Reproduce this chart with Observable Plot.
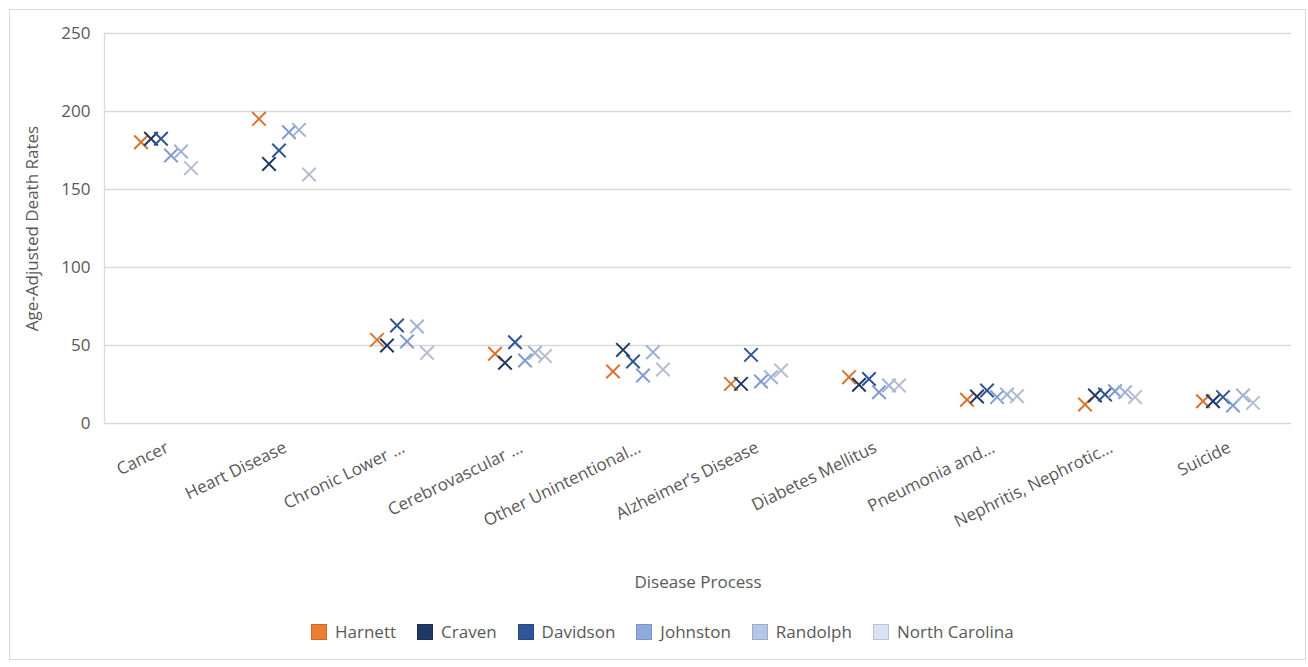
<!DOCTYPE html>
<html><head><meta charset="utf-8">
<script src="https://cdn.jsdelivr.net/npm/d3@7"></script>
<script src="https://cdn.jsdelivr.net/npm/@observablehq/plot@0.6"></script>
<style>
body{margin:0;background:#fff;font-family:"Open Sans",sans-serif;}
#wrap{position:relative;width:1308px;height:667px;overflow:hidden;}
#frame{position:absolute;left:9px;top:9px;width:1297px;height:651px;border:1px solid #d9d9d9;box-sizing:border-box;}
#chart{position:absolute;left:0;top:0;}
#legend{position:absolute;left:311px;top:620px;display:flex;align-items:center;font-size:17px;color:#595959;white-space:nowrap;}
.item{display:flex;align-items:center;margin-right:21px;}
.sw{width:16px;height:16px;box-sizing:border-box;margin-right:8px;}
</style></head>
<body>
<div id="wrap"><div id="frame"></div><div id="chart"></div><div id="legend"></div></div>
<script>
const categories = ["Cancer","Heart Disease","Chronic Lower …","Cerebrovascular …","Other Unintentional…","Alzheimer’s Disease","Diabetes Mellitus","Pneumonia and…","Nephritis, Nephrotic…","Suicide"];
const series = ["Harnett","Craven","Davidson","Johnston","Randolph","North Carolina"];
const harnett  = [180.3, 195.3, 53.6, 44.7, 33.3, 25.4, 29.7, 15.2, 12.2, 14.3];
const craven   = [182.5, 166.4, 50.0, 38.9, 47.2, 25.4, 24.8, 17.3, 17.9, 14.3];
const davidson = [182.5, 175.0, 62.8, 52.1, 39.7, 44.0, 28.5, 21.2, 18.6, 16.9];
const johnston = [171.8, 186.7, 52.6, 40.4, 30.8, 26.9, 20.0, 16.9, 20.7, 11.5];
const randolph = [174.4, 188.2, 62.2, 45.3, 45.7, 29.7, 24.4, 18.6, 20.0, 17.9];
const northCarolina = [163.7, 159.6, 45.3, 43.2, 34.6, 34.0, 24.4, 17.5, 16.9, 13.2];
const yTicks = [0, 50, 100, 150, 200, 250];

// styles
const markerColors = ["#d9732f","#1f3864","#2f5597","#7f9bd0","#9fb2d6","#b4bdcf"];
const swatchFill   = ["#ed7d31","#203864","#2f5597","#8faadc","#b4c7e7","#dae3f3"];
const swatchBorder = ["#c9692a","#1a2f55","#284a83","#7a93c2","#9aaccb","#b9c4d8"];
const offsets = [-26.5,-16.5,-6.5,3.5,13.5,23.5];

const values = [harnett, craven, davidson, johnston, randolph, northCarolina];
const rows = series.flatMap((s, i) => categories.map((c, j) => ({series: s, category: c, value: values[i][j]})));

const chart = Plot.plot({
  width: 1308, height: 600,
  marginTop: 33, marginBottom: 177, marginLeft: 104, marginRight: 17,
  style: {fontFamily: "'Open Sans', sans-serif", fontSize: "17px", color: "#595959", background: "transparent"},
  x: {type: "band", domain: categories, padding: 0},
  y: {domain: [0, 250]},
  marks: [
    Plot.ruleY(yTicks, {stroke: "#d9d9d9", strokeWidth: 1.3}),
    Plot.frame({anchor: "left", stroke: "#d9d9d9", strokeWidth: 1.3}),
    Plot.axisY({ticks: yTicks, tickSize: 0, tickPadding: 14, fill: "#595959",
      label: "Age-Adjusted Death Rates", labelAnchor: "center", labelOffset: 79, labelArrow: "none"}),
    Plot.axisX({tickSize: 0, tickRotate: -26, tickPadding: 23, fill: "#595959",
      label: "Disease Process", labelAnchor: "center", labelOffset: 164, labelArrow: "none"}),
    ...series.map((s, i) => Plot.dot(rows.filter(d => d.series === s), {
      x: "category", y: "value", symbol: "times", r: 6.2,
      stroke: markerColors[i], strokeWidth: 2, dx: offsets[i]
    }))
  ]
});
document.getElementById("chart").appendChild(chart);

const legend = document.getElementById("legend");
series.forEach((s, i) => {
  const it = document.createElement("div"); it.className = "item";
  const sw = document.createElement("div"); sw.className = "sw";
  sw.style.background = swatchFill[i]; sw.style.border = "1px solid " + swatchBorder[i];
  const t = document.createElement("span"); t.textContent = s;
  it.appendChild(sw); it.appendChild(t); legend.appendChild(it);
});
</script>
</body></html>
